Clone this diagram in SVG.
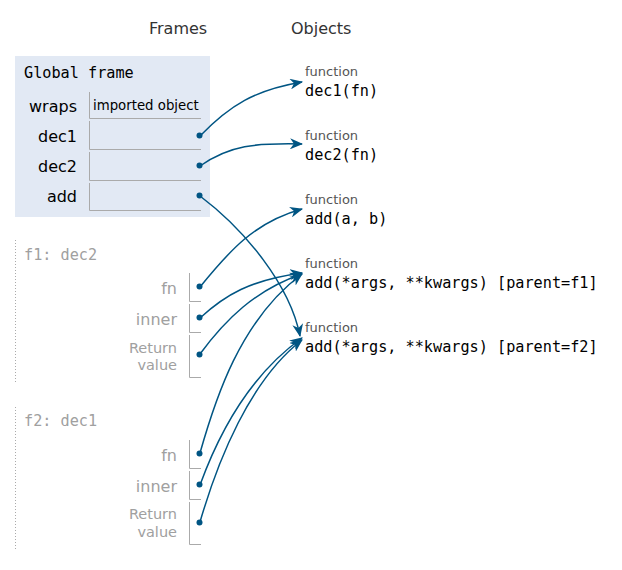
<svg xmlns="http://www.w3.org/2000/svg" width="622" height="570" viewBox="0 0 622 570">
<defs>
<style>
.hdr{font-family:"DejaVu Sans",Verdana,sans-serif;font-size:16px;fill:#333}
.mono{font-family:"DejaVu Sans Mono","Liberation Mono",monospace;font-size:15.2px}
.lbl{font-family:"DejaVu Sans",Verdana,sans-serif;font-size:16px;text-anchor:end}
.ret{font-family:"DejaVu Sans",Verdana,sans-serif;font-size:14.5px;text-anchor:end;fill:#a0a0a0}
.fnl{font-family:"DejaVu Sans",Verdana,sans-serif;font-size:13px;fill:#555}
.box{fill:none;stroke:#aaa;stroke-width:1}
.gray{fill:#a0a0a0}
.dot{fill:#005583}
.link{fill:none;stroke:#005583;stroke-width:1.5;marker-end:url(#ah)}
</style>
<marker id="ah" viewBox="0 0 12 10" refX="11" refY="5" markerWidth="13" markerHeight="11" markerUnits="userSpaceOnUse" orient="auto">
<path d="M0,0 L12,5 L0,10 L3.5,5 z" fill="#005583"/>
</marker>
</defs>
<text class="hdr" x="149" y="34">Frames</text>
<text class="hdr" x="291" y="34">Objects</text>

<g id="global-frame">
<rect x="15" y="56" width="195" height="161" fill="#e2e9f4"/>
<text class="mono" x="24" y="78" fill="#000">Global frame</text>
<text class="lbl" x="77" y="112">wraps</text>
<path class="box" d="M89.5,92 V118.5 H201"/>
<text x="93" y="109.5" font-family="DejaVu Sans,Verdana,sans-serif" font-size="13.3">imported object</text>
<text class="lbl" x="77" y="142">dec1</text>
<path class="box" d="M89.5,121 V149.5 H201"/>
<circle class="dot" cx="199.5" cy="135.5" r="3"/>
<text class="lbl" x="77" y="172">dec2</text>
<path class="box" d="M89.5,152 V180.5 H201"/>
<circle class="dot" cx="199.5" cy="165.5" r="3"/>
<text class="lbl" x="77" y="202">add</text>
<path class="box" d="M89.5,183 V210.5 H201"/>
<circle class="dot" cx="199.5" cy="195.5" r="3"/>
</g>

<g id="frame-f1">
<line x1="15.5" y1="240" x2="15.5" y2="383" stroke="#aaa" stroke-dasharray="1,2"/>
<text class="mono gray" x="24" y="260">f1: dec2</text>
<text class="lbl gray" x="177" y="294">fn</text>
<path class="box" d="M189.5,273 V301.5 H201"/>
<circle class="dot" cx="199.5" cy="286.5" r="3"/>
<text class="lbl gray" x="177" y="325">inner</text>
<path class="box" d="M189.5,304 V332.5 H201"/>
<circle class="dot" cx="199.5" cy="317.5" r="3"/>
<text class="ret" x="177" y="353">Return</text>
<text class="ret" x="177" y="370">value</text>
<path class="box" d="M189.5,335 V377.5 H201"/>
<circle class="dot" cx="199.5" cy="354.5" r="3"/>
</g>

<g id="frame-f2">
<line x1="15.5" y1="407" x2="15.5" y2="550" stroke="#aaa" stroke-dasharray="1,2"/>
<text class="mono gray" x="24" y="426">f2: dec1</text>
<text class="lbl gray" x="177" y="461">fn</text>
<path class="box" d="M189.5,440 V468.5 H201"/>
<circle class="dot" cx="199.5" cy="453.5" r="3"/>
<text class="lbl gray" x="177" y="492">inner</text>
<path class="box" d="M189.5,471 V499.5 H201"/>
<circle class="dot" cx="199.5" cy="484.5" r="3"/>
<text class="ret" x="177" y="519">Return</text>
<text class="ret" x="177" y="537">value</text>
<path class="box" d="M189.5,502 V544.5 H201"/>
<circle class="dot" cx="199.5" cy="522.5" r="3"/>
</g>

<g id="obj-dec1">
<text class="fnl" x="305" y="76">function</text>
<text class="mono" x="305" y="96" fill="#000">dec1(fn)</text>
</g>
<g id="obj-dec2">
<text class="fnl" x="305" y="140">function</text>
<text class="mono" x="305" y="160" fill="#000">dec2(fn)</text>
</g>
<g id="obj-add">
<text class="fnl" x="305" y="204">function</text>
<text class="mono" x="305" y="224" fill="#000">add(a, b)</text>
</g>
<g id="obj-inner-f1">
<text class="fnl" x="305" y="268">function</text>
<text class="mono" x="305" y="288" fill="#000">add(*args, **kwargs) [parent=f1]</text>
</g>
<g id="obj-inner-f2">
<text class="fnl" x="305" y="332">function</text>
<text class="mono" x="305" y="352" fill="#000">add(*args, **kwargs) [parent=f2]</text>
</g>

<g id="connectors">
<path class="link" d="M200,136 C230,105 255,90 302,82"/>
<path class="link" d="M200,166 C230,145 255,143 302,144"/>
<path class="link" d="M200,196 C245,230 290,285 300,336"/>
<path class="link" d="M200,287 C230,250 255,222 302,209"/>
<path class="link" d="M200,318 C225,295 250,280 302,273"/>
<path class="link" d="M200,354 C225,320 255,290 302,274"/>
<path class="link" d="M200,453 C215,400 240,320 302,274"/>
<path class="link" d="M200,485 C220,430 250,375 302,338"/>
<path class="link" d="M200,522 C218,460 250,380 302,340"/>
</g>
</svg>
